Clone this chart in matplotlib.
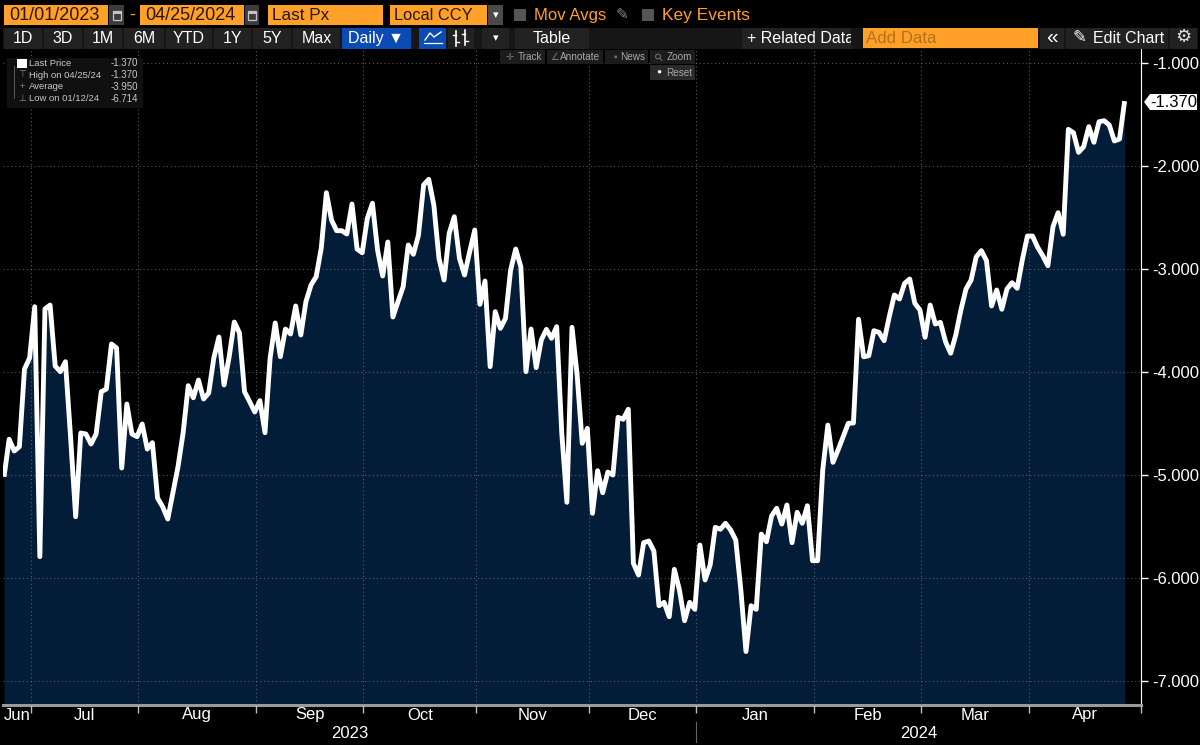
#!/usr/bin/env python3
"""Terminal style line chart of last price, with the header controls."""

import pandas as pd
import matplotlib
matplotlib.use("Agg")
import matplotlib.pyplot as plt
from matplotlib.patches import Rectangle, Polygon, Circle
from matplotlib.transforms import blended_transform_factory

# ── data ─────────────────────────────────────────────────────────────────────
START_DATE = "2023-06-23"
END_DATE = "2024-04-25"
LAST_PX = [
    -5.017, -4.653, -4.767, -4.725, -3.971, -3.864, -3.366, -5.793, -3.388, -3.350,
    -3.942, -3.997, -3.900, -4.628, -5.405, -4.592, -4.602, -4.699, -4.602, -4.191,
    -4.165, -3.728, -3.767, -4.932, -4.311, -4.602, -4.628, -4.505, -4.748, -4.686,
    -5.223, -5.308, -5.427, -5.175, -4.920, -4.592, -4.133, -4.250, -4.078, -4.262,
    -4.204, -3.864, -3.660, -4.126, -3.852, -3.515, -3.618, -4.191, -4.288, -4.388,
    -4.278, -4.589, -3.864, -3.524, -3.852, -3.583, -3.631, -3.359, -3.641, -3.317,
    -3.155, -3.075, -2.796, -2.259, -2.524, -2.628, -2.628, -2.660, -2.369, -2.806,
    -2.842, -2.508, -2.362, -2.816, -3.068, -2.738, -3.466, -3.317, -3.172, -2.767,
    -2.857, -2.670, -2.184, -2.129, -2.379, -2.896, -3.107, -2.653, -2.492, -2.896,
    -3.058, -2.832, -2.621, -3.343, -3.117, -3.948, -3.414, -3.576, -3.479, -3.010,
    -2.806, -2.978, -3.997, -3.583, -3.958, -3.689, -3.586, -3.673, -3.560, -4.592,
    -5.265, -3.566, -4.029, -4.692, -4.547, -5.372, -4.958, -5.172, -4.971, -5.000,
    -4.440, -4.459, -4.362, -5.857, -5.971, -5.657, -5.641, -5.738, -6.269, -6.236,
    -6.376, -5.916, -6.117, -6.415, -6.236, -6.304, -5.680, -6.019, -5.874, -5.508,
    -5.527, -5.469, -5.534, -5.631, -6.117, -6.714, -6.269, -6.304, -5.573, -5.648,
    -5.398, -5.323, -5.476, -5.291, -5.657, -5.362, -5.469, -5.298, -5.832, -5.832,
    -4.951, -4.515, -4.877, -4.757, -4.628, -4.498, -4.495, -3.488, -3.852, -3.842,
    -3.599, -3.615, -3.696, -3.463, -3.252, -3.291, -3.139, -3.097, -3.333, -3.398,
    -3.663, -3.350, -3.534, -3.518, -3.706, -3.818, -3.641, -3.398, -3.194, -3.107,
    -2.881, -2.822, -2.919, -3.359, -3.204, -3.391, -3.194, -3.133, -3.187, -2.913,
    -2.680, -2.680, -2.789, -2.871, -2.968, -2.589, -2.453, -2.663, -1.644, -1.677,
    -1.867, -1.812, -1.618, -1.770, -1.570, -1.560, -1.602, -1.757, -1.738, -1.370,
]
Y_TICKS = [-1, -2, -3, -4, -5, -6, -7]
LEGEND_LABELS = ["Last Price", "High on 04/25/24", "Average", "Low on 01/12/24"]
LEGEND_VALUES = ["-1.370", "-1.370", "-3.950", "-6.714"]

# ── look ─────────────────────────────────────────────────────────────────────
W, H = 1200, 745
ORANGE = "#ffa028"
BLUE = "#0a4bb4"
FILL = "#031d38"
plt.rcParams["font.family"] = ["Liberation Sans", "DejaVu Sans"]

fig = plt.figure(figsize=(W / 100, H / 100), dpi=100, facecolor="black")

# ── chart ────────────────────────────────────────────────────────────────────
AX_L, AX_R, AX_T, AX_B = 3, 1141, 49, 705
ax = fig.add_axes([AX_L / W, 1 - AX_B / H, (AX_R - AX_L) / W, (AX_B - AX_T) / H])
ax.set_facecolor("black")

dates = pd.bdate_range(START_DATE, END_DATE)
x = list(range(len(dates)))
ax.fill_between(x, LAST_PX, -7.233, color=FILL, lw=0, zorder=1)
ax.plot(x, LAST_PX, color="white", lw=3.5, solid_joinstyle="round",
        solid_capstyle="butt", zorder=3)
ax.set_xlim(-0.2, 222.2)
ax.set_ylim(-7.233, -0.864)

# first business day of each month, the tick sits just before that day's point
firsts = [i for i in x[1:] if dates[i].month != dates[i - 1].month]
ticks = [i - 0.75 for i in firsts]
edges = [ax.get_xlim()[0]] + ticks + [ax.get_xlim()[1]]
ax.set_xticks(ticks + [edges[-1]])
ax.set_xticklabels([])
ax.set_yticks(Y_TICKS)
ax.set_yticklabels([f"{v:.3f}" for v in Y_TICKS])
ax.yaxis.tick_right()
ax.tick_params(axis="y", colors="white", labelsize=12, length=5, width=1, pad=3)
ax.tick_params(axis="x", colors="#bbbbbb", length=6, width=1)
ax.grid(True, color="#7a7a7a", lw=0.8, linestyle=(0, (1, 2.5)), alpha=0.7, zorder=2)
ax.set_axisbelow(False)
for name in ("top", "left"):
    ax.spines[name].set_visible(False)
ax.spines["right"].set_color("white")
ax.spines["bottom"].set_color("#9a9a9a")
ax.spines["bottom"].set_linewidth(2.2)

# month and year labels, centred on their spans
trans = blended_transform_factory(ax.transData, fig.transFigure)
first_month = dates[0].to_period("M")
for i, left in enumerate(edges[:-1]):
    ax.text((left + edges[i + 1]) / 2, 1 - 715 / H, (first_month + i).strftime("%b"),
            transform=trans, color="white", fontsize=12, ha="center", va="center")
jan = ticks[[dates[i].year for i in firsts].index(2024)]
ax.text((edges[0] + jan) / 2, 1 - 733 / H, "2023", transform=trans, color="white",
        fontsize=12, ha="center", va="center")
ax.text((jan + edges[-1]) / 2, 1 - 733 / H, "2024", transform=trans, color="white",
        fontsize=12, ha="center", va="center")
ax.plot([jan, jan], [1 - 722 / H, 1 - 742 / H], transform=trans, color="#666666",
        lw=0.8, clip_on=False)

# ── overlay in pixel coordinates for the terminal controls ───────────────────
ui = fig.add_axes([0, 0, 1, 1], zorder=5)
ui.set_xlim(0, W)
ui.set_ylim(H, 0)
ui.axis("off")


def box(x0, y0, x1, y1, color, z=1):
    ui.add_patch(Rectangle((x0, y0), x1 - x0, y1 - y0, facecolor=color, edgecolor="none", zorder=z))


def label(px, py, s, color="white", size=11.5, ha="center", z=3):
    ui.text(px, py, s, color=color, fontsize=size, ha=ha, va="center", zorder=z)


def calendar(left, right):
    box(left, 5, right, 25, "#3c3c3c")
    cx = (left + right) / 2
    ui.add_patch(Rectangle((cx - 4, 11), 8, 9, facecolor="none", edgecolor="#c4c4c4", lw=0.9, zorder=2))
    box(cx - 4, 11, cx + 4, 14, "#c4c4c4", 2)


# top row
DARK = "#2a1500"
box(4, 5, 108, 25, ORANGE)
label(9, 15.5, "01/01/2023", DARK, 13, "left")
calendar(109, 124)
label(132, 15, "-", ORANGE, 13)
box(140, 5, 244, 25, ORANGE)
label(145, 15.5, "04/25/2024", DARK, 13, "left")
calendar(245, 259)
box(268, 5, 383, 25, ORANGE)
label(272, 15.5, "Last Px", DARK, 12.3, "left")
box(390, 5, 487, 25, ORANGE)
label(394, 15.5, "Local CCY", DARK, 11.8, "left")
box(488, 5, 503, 25, "#4a4a4a")
label(495.5, 15, "▾", "white", 8)
box(514, 9, 526, 21, "#555555")
label(534, 15.5, "Mov Avgs", ORANGE, 12, "left")
label(622, 15, "✎", "#888888", 11)
box(642, 9, 654, 21, "#555555")
label(662, 15.5, "Key Events", ORANGE, 12.5, "left")

# second row
box(3, 28, 1198, 49, "#161616")
buttons = [(4, 42, "1D"), (44, 82, "3D"), (84, 122, "1M"), (124, 164, "6M"),
           (166, 212, "YTD"), (214, 251, "1Y"), (253, 291, "5Y"), (293, 340, "Max"),
           (515, 589, "Table")]
for left, right, name in buttons:
    box(left, 28, right, 49, "#222222")
    label((left + right) / 2, 38.5, name)
box(342, 28, 411, 49, BLUE)
label(376.5, 38.5, "Daily ▼")
box(419, 28, 446, 49, BLUE)
ui.plot([425, 430, 434, 441], [40, 33, 37, 32], color="white", lw=1, zorder=2)
ui.plot([424, 442], [43, 43], color="white", lw=0.9, zorder=2)
box(448, 28, 474, 49, "#222222")
for bx, y0, y1 in [(456, 31, 46), (465, 30, 45)]:
    ui.plot([bx, bx], [y0, y1], color="white", lw=1.2, zorder=2)
    ui.plot([bx - 3, bx], [y0 + 4, y0 + 4], color="white", lw=1, zorder=2)
    ui.plot([bx, bx + 3], [y1 - 4, y1 - 4], color="white", lw=1, zorder=2)
box(482, 28, 509, 49, "#222222")
label(495.5, 38, "▾", "white", 8)
box(742, 28, 852, 49, "#222222")
label(747, 38.5, "+ Related Data", "white", 11.5, "left")
box(851, 28, 862, 49, "#161616", 5)    # cuts the last letter, as on the terminal
box(863, 28, 1038, 48, ORANGE, 5)
label(866, 38.5, "Add Data", "#b5701c", 12.2, "left", 6)
box(1040, 28, 1064, 49, "#222222")
label(1052, 37, "«", "white", 15)
box(1066, 28, 1168, 49, "#222222")
label(1079, 38, "✎", "white", 12)
label(1093, 38.5, "Edit Chart", "white", 11.5, "left")
box(1170, 28, 1197, 49, "#222222")
label(1183.5, 38, "⚙", "#dddddd", 13)

# chart tools
TOOLS = [(500, 545, "Track", "✛", 510), (547, 603, "Annotate", "∠", 555),
         (605, 648, "News", "▪", 615)]
for left, right, name, mark, mx in TOOLS:
    box(left, 50, right, 64, "#1c1c1c")
    label(right - 3, 57, name, "#a8a8a8", 7.2, "right")
    label(mx, 57, mark, "#777777", 7)
box(650, 50, 695, 64, "#1c1c1c")
label(692, 57, "Zoom", "#a8a8a8", 7.2, "right")
ui.add_patch(Circle((658, 56.5), 2.4, facecolor="none", edgecolor="#777777", lw=0.7, zorder=2))
ui.plot([660, 662], [58.5, 60.5], color="#777777", lw=0.7, zorder=2)
box(650, 65, 695, 80, "#2a2a2a")
label(692, 72.5, "Reset", "#a8a8a8", 7.2, "right")
label(659, 72.5, "●", "white", 6)

# stats legend
box(7, 58, 143, 108, "#101010")
box(17, 59, 27, 68, "white")
for i, (name, val) in enumerate(zip(LEGEND_LABELS, LEGEND_VALUES)):
    py = 63.5 + i * 11.7
    label(29, py, name, "#c8c8c8", 6.8, "left")
    label(138, py, val, "#c8c8c8", 7, "right")
for py, mark in zip([75.2, 86.9, 98.6], ["⊤", "+", "⊥"]):
    label(22, py, mark, "#888888", 6.5)
ui.plot([14, 14], [66, 98], color="#666666", lw=0.6)

# last value tag
ui.add_patch(Polygon([(1144, 102), (1150, 94), (1197, 94), (1197, 110), (1150, 110)],
                     facecolor="white", edgecolor="none"))
label(1173.5, 102.5, f"{LAST_PX[-1]:.3f}", "black", 12)

fig.savefig("out.png", dpi=100, facecolor="black")
